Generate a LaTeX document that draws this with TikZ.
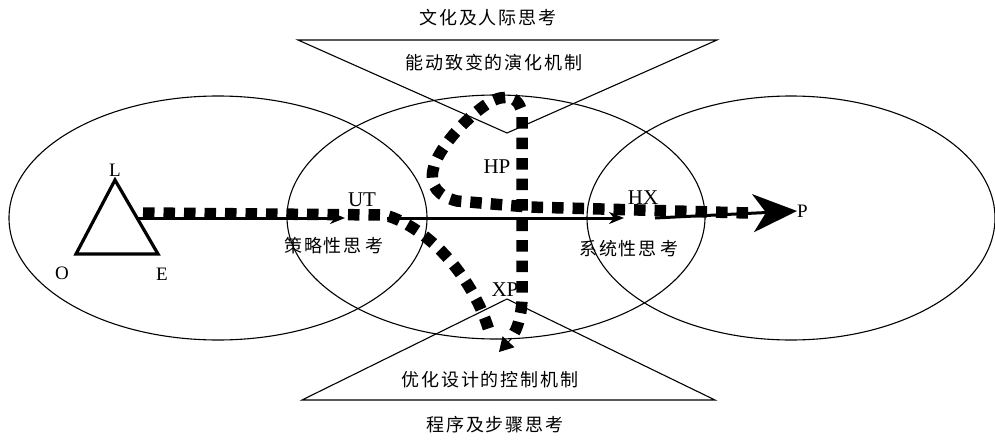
\documentclass[tikz,border=0pt]{standalone}
\usepackage{fontspec}
\setmainfont{Liberation Serif}
\newfontfamily\cjkfont[LetterSpace=10]{Noto Sans CJK SC}
\usetikzlibrary{arrows.meta}
\begin{document}
\begin{tikzpicture}[x=1pt,y=-1pt,
  thinline/.style={line width=1.1pt},
  sq/.style={line width=11.5pt, dash pattern=on 11.5pt off 9pt, black},
  mainline/.style={line width=3pt},
  lab/.style={font=\fontsize{19}{19}\selectfont, inner sep=0pt},
  hlab/.style={font=\fontsize{21}{21}\selectfont, inner sep=0pt},
  cjk/.style={font=\cjkfont\fontsize{18}{18}\selectfont, inner sep=0pt}]
\useasboundingbox (0,0) rectangle (995,439);
\fill[white] (0,0) rectangle (995,439);

% ellipses
\draw[thinline] (218,218) ellipse [x radius=209pt, y radius=122pt];
\draw[thinline] (496,217) ellipse [x radius=209pt, y radius=122pt];
\draw[thinline] (791,218) ellipse [x radius=204pt, y radius=122pt];

% inverted and upright triangles
\draw[thinline] (298,40) -- (717,40) -- (507,133) -- cycle;
\draw[thinline] (302,400) -- (715,400) -- (507,299) -- cycle;

% OLE triangle
\coordinate (vL) at (115,180);
\coordinate (vE) at (158,254);
\coordinate (vO) at (76,254);
\draw[line width=3.2pt, line join=miter] (vL) -- (vE) -- (vO) -- cycle;

% labels
\node[lab, anchor=south] (L) at (115,177) {L};
\node[lab] (O) at (62,273) {O};
\node[lab] (E) at (162,274) {E};
\node[hlab] (UT) at (362,200) {UT};
\node[hlab] (HP) at (497,167) {HP};
\node[hlab] (HX) at (643,198) {HX};
\node[hlab] (XP) at (505,290) {XP};
\node[lab, anchor=west] (P) at (797,211) {P};

\node[cjk] (t1) at (488,18) {文化及人际思考};
\node[cjk] (t2) at (494,63) {能动致变的演化机制};
\node[cjk] (b1) at (490,380) {优化设计的控制机制};
\node[cjk] (b2) at (495,425) {程序及步骤思考};
\node[cjk] (s1) at (334,246) {策略性思\hspace{4pt}考};
\node[cjk] (s2) at (629,249) {系统性思\hspace{4pt}考};

% solid main line
\coordinate (m0) at (137,218);
\coordinate (m1) at (345,218);
\coordinate (m2) at (387,218);
\coordinate (m3) at (624,218);
\coordinate (m4) at (655,218);
\draw[mainline, -{Stealth[length=15pt,width=12pt]}] (m0) -- (m1);
\draw[mainline, -{Stealth[length=15pt,width=12pt]}] (m2) -- (m3);
\draw[mainline, -{Stealth[length=44pt,width=38pt,inset=13pt]}] (m4) -- (P.west);

% dotted square paths
\coordinate (a0) at (143,213);
\coordinate (a1) at (385,215);
\coordinate (a2) at (490,334);
\draw[sq] (a0) -- (a1) .. controls (430,228) and (475,280) .. (a2);

\coordinate (c0) at (748,213);
\coordinate (c1) at (528,207);
\draw[sq] (c0) -- (c1) -- (457,201) .. controls (437,196) and (430,185) .. (433,170)
  .. controls (437,150) and (465,118) .. (490,102)
  .. controls (505,94) and (520,95) .. (522,115)
  -- (522,300) .. controls (521,318) and (517,330) .. (512,336);
\coordinate (tipA) at (512,338);
\coordinate (tipB) at (499,352);
\draw[line width=1pt, -{Triangle[length=14pt,width=16pt]}] (tipA) -- (tipB);
\end{tikzpicture}
\end{document}
